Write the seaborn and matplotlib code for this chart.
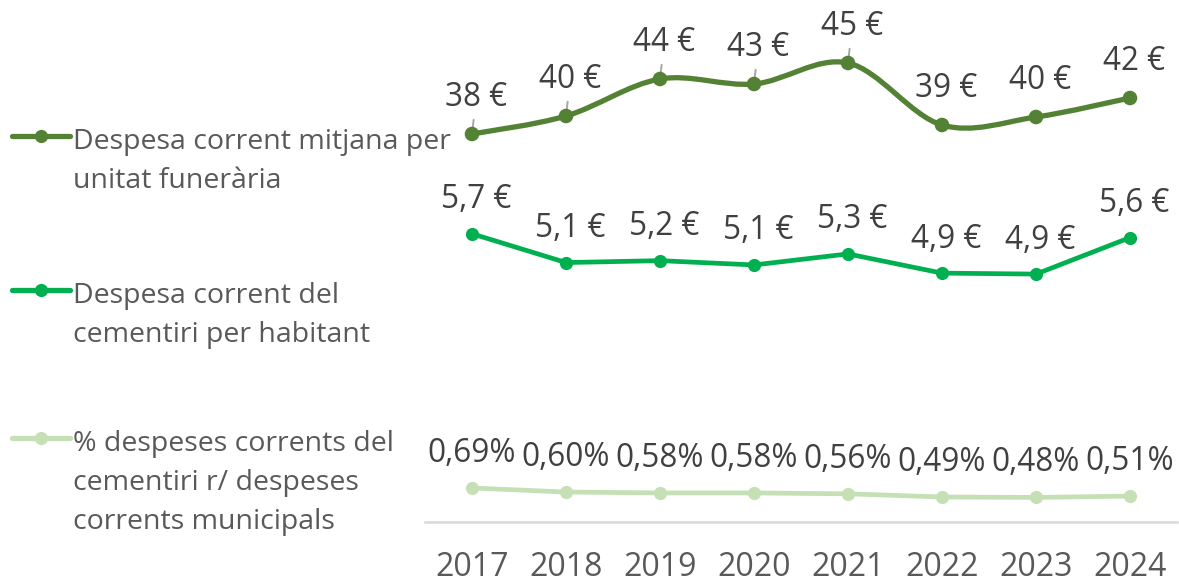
import matplotlib
matplotlib.use("Agg")
import numpy as np
import pandas as pd
import seaborn as sns
from matplotlib import pyplot as plt
from matplotlib.path import Path
from matplotlib.patches import PathPatch
from matplotlib.lines import Line2D

# data
years = [2017, 2018, 2019, 2020, 2021, 2022, 2023, 2024]
cost_per_unit = [38.2, 40.0, 43.7, 43.2, 45.3, 39.1, 39.9, 41.8]
cost_per_inhab = [5.72, 5.12, 5.16, 5.07, 5.30, 4.90, 4.88, 5.64]
pct_municipal = [0.69, 0.60, 0.58, 0.58, 0.56, 0.49, 0.48, 0.51]

labels = [
    "Despesa corrent mitjana per\nunitat funerària",
    "Despesa corrent del\ncementiri per habitant",
    "% despeses corrents del\ncementiri r/ despeses\ncorrents municipals",
]
colors = ["#548235", "#00B050", "#C5E0B4"]

sns.set_theme(style="white")
plt.rcParams["font.family"] = ["Open Sans", "DejaVu Sans"]

W, H = 1179, 585
fig = plt.figure(figsize=(W / 100, H / 100), dpi=100)
ax = fig.add_axes([425 / W, 1 - 522 / H, 752 / W, 522 / H])
ax2 = ax.twinx()
ax3 = ax.twinx()

label_color = "#404040"
text_color = "#595959"
fs = 22.7      # data labels
fs_axis = 23   # years
fs_leg = 20.5  # legend


# Excel-like smoothed line (Catmull-Rom as cubic bezier)
def smooth_path(xs, ys):
    pts = np.column_stack([xs, ys]).astype(float)
    ext = np.vstack([pts[0], pts, pts[-1]])
    verts = [pts[0]]
    codes = [Path.MOVETO]
    for i in range(len(pts) - 1):
        p0, p1, p2, p3 = ext[i], ext[i + 1], ext[i + 2], ext[i + 3]
        verts += [p1 + (p2 - p0) / 6, p2 - (p3 - p1) / 6, p2]
        codes += [Path.CURVE4] * 3
    return Path(verts, codes)


# series 1: smoothed, on its own scale
ax3.add_patch(PathPatch(smooth_path(years, cost_per_unit), fill=False,
                        edgecolor=colors[0], lw=3.8, capstyle="round", zorder=2))
sns.scatterplot(x=years, y=cost_per_unit, ax=ax3, color=colors[0], s=110,
                edgecolor="none", zorder=3)
ax3.set_ylim(-0.6, 51.6)
for i, (x, v) in enumerate(zip(years, cost_per_unit)):
    arrow = dict(arrowstyle="-", color="#A6A6A6", lw=1.4, shrinkA=1.5, shrinkB=0) if i < 5 else None
    ax3.annotate(f"{v:.0f} €", (x, v), xytext=(3, 26), textcoords="offset points",
                 ha="center", va="center", fontsize=fs, color=label_color,
                 arrowprops=arrow, zorder=1)

# series 2
sns.lineplot(x=years, y=cost_per_inhab, ax=ax2, color=colors[1], lw=3.4,
             marker="o", markersize=9.5, markeredgewidth=0)
ax2.set_ylim(-0.285, 10.59)
for x, v in zip(years, cost_per_inhab):
    ax2.annotate(f"{v:.1f} €".replace(".", ","), (x, v), xytext=(3, 24.5),
                 textcoords="offset points", ha="center", va="center",
                 fontsize=fs, color=label_color)

# series 3
sns.lineplot(x=years, y=pct_municipal, ax=ax, color=colors[2], lw=3.4,
             marker="o", markersize=9.5, markeredgewidth=0)
ax.set_ylim(-0.066, 11.534)
for x, v in zip(years, pct_municipal):
    ax.annotate(f"{v:.2f}%".replace(".", ","), (x, v), xytext=(0, 25),
                textcoords="offset points", ha="center", va="center",
                fontsize=fs, color=label_color)

ax.set_xlim(2016.5, 2024.5)
ax.set_xticks(years)
ax.set_xticklabels([str(y) for y in years], fontsize=fs_axis, color=text_color)
ax.tick_params(axis="x", length=0, pad=21)
for a in (ax, ax2, ax3):
    a.set_yticks([])
    a.set_ylabel("")
    for side in ("top", "left", "right", "bottom"):
        a.spines[side].set_visible(False)
ax.spines["bottom"].set_visible(True)
ax.spines["bottom"].set_color("#D9D9D9")
ax.spines["bottom"].set_linewidth(1.8)

# legend on the left, handle next to first text line
legend_y = [136, 290, 438]
for lab, col, y in zip(labels, colors, legend_y):
    fy = 1 - y / H
    fig.add_artist(Line2D([12 / W, 70 / W], [fy, fy], color=col, lw=3.8,
                          solid_capstyle="round"))
    fig.add_artist(Line2D([41 / W], [fy], color=col, marker="o", markersize=9.5,
                          markeredgewidth=0))
    fig.text(73 / W, 1 - (y - 8) / H, lab, ha="left", va="top", fontsize=fs_leg,
             color=text_color, linespacing=1.52)

fig.savefig("out.png", dpi=100)
